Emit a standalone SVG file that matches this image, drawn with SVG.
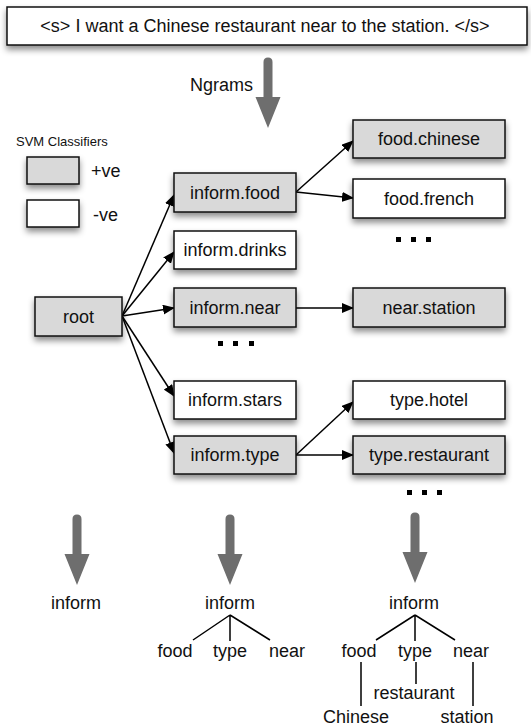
<svg xmlns="http://www.w3.org/2000/svg" width="531" height="728" viewBox="0 0 531 728">
<style>
text{font-family:"Liberation Sans",Arial,sans-serif;font-size:18px;fill:#111;}
.box{stroke:#111;stroke-width:1.5;filter:url(#sh);}
.pos{fill:#d9d9d9;}
.neg{fill:#ffffff;}
.c{text-anchor:middle;}
.ln{stroke:#000;stroke-width:1.5;fill:none;}
.arr{stroke:#000;stroke-width:1.5;fill:none;marker-end:url(#ah);}
.big{fill:#6e6e6e;}
.dot{fill:#000;}
</style>
<defs>
<filter id="sh" x="-20%" y="-30%" width="140%" height="180%">
<feDropShadow dx="0" dy="4" stdDeviation="3" flood-color="#000" flood-opacity="0.45"/>
</filter>
<marker id="ah" markerWidth="12" markerHeight="10" refX="11" refY="5" orient="auto" markerUnits="userSpaceOnUse">
<path d="M0,0 L12,5 L0,10 Z" fill="#000"/>
</marker>
<g id="bigarrow">
<path d="M-4.5,0 Q-4.5,-4.5 0,-4.5 Q4.5,-4.5 4.5,0 L4.5,35 L12.5,35 L0,66 L-12.5,35 L-4.5,35 Z"/>
</g>
</defs>
<rect width="531" height="728" fill="#fff"/>

<g id="sentence">
<rect class="box neg" x="7" y="7" width="520" height="38"/>
<text class="c" x="265" y="32">&lt;s&gt; I want a Chinese restaurant near to the station. &lt;/s&gt;</text>
</g>

<g id="ngrams">
<use href="#bigarrow" class="big" x="268" y="62"/>
<text x="190" y="91">Ngrams</text>
</g>

<g id="legend">
<text x="16" y="146" style="font-size:13px">SVM Classifiers</text>
<rect class="box pos" x="27" y="157" width="52" height="27"/>
<text x="91" y="177">+ve</text>
<rect class="box neg" x="27" y="200" width="52" height="27"/>
<text x="93" y="221">-ve</text>
</g>

<g id="connectors">
<path class="arr" d="M122,316 L174,195"/>
<path class="arr" d="M122,316 L174,252"/>
<path class="arr" d="M122,316 L174,308"/>
<path class="arr" d="M122,316 L174,396"/>
<path class="arr" d="M122,316 L174,453"/>
<path class="arr" d="M296,192 L353,141"/>
<path class="arr" d="M296,192 L353,198"/>
<path class="arr" d="M296,308 L353,308"/>
<path class="arr" d="M296,455 L353,402"/>
<path class="arr" d="M296,455 L353,455"/>
</g>

<g id="root">
<rect class="box pos" x="35" y="297" width="87" height="39"/>
<text class="c" x="78.5" y="323">root</text>
</g>
<g id="inform_food">
<rect class="box pos" x="174" y="173" width="122" height="39"/>
<text class="c" x="235" y="199">inform.food</text>
</g>
<g id="inform_drinks">
<rect class="box neg" x="174" y="231" width="122" height="38"/>
<text class="c" x="235" y="256">inform.drinks</text>
</g>
<g id="inform_near">
<rect class="box pos" x="174" y="288" width="122" height="39"/>
<text class="c" x="235" y="314">inform.near</text>
</g>
<g id="inform_stars">
<rect class="box neg" x="174" y="381" width="122" height="38"/>
<text class="c" x="235" y="406">inform.stars</text>
</g>
<g id="inform_type">
<rect class="box pos" x="174" y="436" width="122" height="38"/>
<text class="c" x="235" y="461">inform.type</text>
</g>
<g id="food_chinese">
<rect class="box pos" x="353" y="120" width="152" height="38"/>
<text class="c" x="429" y="145">food.chinese</text>
</g>
<g id="food_french">
<rect class="box neg" x="353" y="179" width="152" height="39"/>
<text class="c" x="429" y="205">food.french</text>
</g>
<g id="near_station">
<rect class="box pos" x="353" y="288" width="152" height="39"/>
<text class="c" x="429" y="314">near.station</text>
</g>
<g id="type_hotel">
<rect class="box neg" x="353" y="381" width="152" height="38"/>
<text class="c" x="429" y="406">type.hotel</text>
</g>
<g id="type_restaurant">
<rect class="box pos" x="353" y="436" width="152" height="38"/>
<text class="c" x="429" y="461">type.restaurant</text>
</g>

<g id="ellipses">
<rect class="dot" x="396" y="237" width="5" height="5"/>
<rect class="dot" x="411" y="237" width="5" height="5"/>
<rect class="dot" x="426" y="237" width="5" height="5"/>
<rect class="dot" x="218" y="341" width="5" height="5"/>
<rect class="dot" x="233" y="341" width="5" height="5"/>
<rect class="dot" x="249" y="341" width="5" height="5"/>
<rect class="dot" x="407" y="490" width="5" height="5"/>
<rect class="dot" x="422" y="490" width="5" height="5"/>
<rect class="dot" x="437" y="490" width="5" height="5"/>
</g>

<g id="result1">
<use href="#bigarrow" class="big" x="77" y="519"/>
<text class="c" x="76" y="609">inform</text>
</g>
<g id="result2">
<use href="#bigarrow" class="big" x="230" y="519"/>
<text class="c" x="230" y="609">inform</text>
<path class="ln" d="M230,615 L193,640 M230,615 L230,641 M230,615 L270,640"/>
<text class="c" x="175" y="657">food</text>
<text class="c" x="230" y="657">type</text>
<text class="c" x="287" y="657">near</text>
</g>
<g id="result3">
<use href="#bigarrow" class="big" x="415" y="517"/>
<text class="c" x="414" y="609">inform</text>
<path class="ln" d="M415,615 L376,640 M415,615 L415,641 M415,615 L455,640"/>
<text class="c" x="359" y="657">food</text>
<text class="c" x="415" y="657">type</text>
<text class="c" x="471" y="657">near</text>
<path class="ln" d="M361,662 L361,706 M416,662 L416,684 M473,662 L473,706"/>
<text class="c" x="414" y="699">restaurant</text>
<text class="c" x="356" y="723">Chinese</text>
<text class="c" x="467" y="723">station</text>
</g>
</svg>
